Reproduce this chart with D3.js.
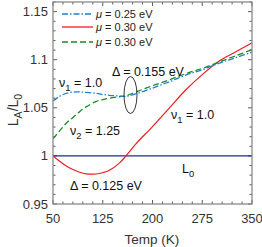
<!DOCTYPE html>
<html><head><meta charset="utf-8">
<script src="https://cdn.jsdelivr.net/npm/d3@7"></script>
<style>body{margin:0;background:#fff}svg{display:block;font-family:"Liberation Sans",Arial,sans-serif}</style>
</head><body>
<svg id="c" width="262" height="247"></svg>
<script>
const temps = [50,60,70,80,90,100,115,125,135,150,160,175,200,225,250,275,300,325,350];
const blue25 = [1.057,1.062,1.065,1.0663,1.0665,1.066,1.065,1.064,1.063,1.0622,1.062,1.0645,1.0705,1.077,1.084,1.0895,1.0963,1.102,1.108];
const green30 = [1.0177,1.026,1.034,1.040,1.046,1.051,1.0566,1.0585,1.060,1.0615,1.0625,1.0665,1.073,1.079,1.0855,1.091,1.0975,1.104,1.1105];
const red30 = [1.0,0.9945,0.9895,0.9858,0.983,0.9813,0.9812,0.9825,0.985,0.9925,1.0,1.0125,1.0305,1.0495,1.0685,1.0845,1.0985,1.108,1.1175];
const l0 = temps.map(()=>1.0);
const xTicks = [50,125,200,275,350];
const yTicks = [0.95,1.0,1.05,1.1,1.15];
const legendLabels = ["0.25 eV","0.30 eV","0.30 eV"];

const svg = d3.select("#c");
const L=53, R=252, T=2, B=204;
const x = d3.scaleLinear().domain([50,350]).range([L,R]);
const y = d3.scaleLinear().domain([0.95,1.16]).range([B,T]);

const g = svg.append("g");
const minorX = d3.range(50,350.1,15), minorY = d3.range(0.95,1.1601,0.01);
const tickCol="#333";
minorX.forEach(v=>{
  const maj = xTicks.some(t=>Math.abs(t-v)<1e-6);
  const len = maj?4:2.5;
  g.append("line").attr("x1",x(v)).attr("x2",x(v)).attr("y1",B).attr("y2",B-len).attr("stroke",tickCol).attr("stroke-width",0.8);
  g.append("line").attr("x1",x(v)).attr("x2",x(v)).attr("y1",T).attr("y2",T+len).attr("stroke",tickCol).attr("stroke-width",0.8);
});
minorY.forEach(v=>{
  const maj = yTicks.some(t=>Math.abs(t-v)<1e-6);
  const len = maj?4:2.5;
  g.append("line").attr("x1",L).attr("x2",L+len).attr("y1",y(v)).attr("y2",y(v)).attr("stroke",tickCol).attr("stroke-width",0.8);
  g.append("line").attr("x1",R).attr("x2",R-len).attr("y1",y(v)).attr("y2",y(v)).attr("stroke",tickCol).attr("stroke-width",0.8);
});
xTicks.forEach(v=>g.append("text").attr("x",x(v)).attr("y",B+19).attr("text-anchor","middle").attr("font-size",13).attr("fill","#333").text(v));
yTicks.forEach(v=>g.append("text").attr("x",L-5).attr("y",y(v)+4.5).attr("text-anchor","end").attr("font-size",13).attr("fill","#333").text(v===1?"1":d3.format(".2~f")(v)));

const line = d3.line().x((d,i)=>x(temps[i])).y(d=>y(d)).curve(d3.curveCatmullRom);
svg.append("clipPath").attr("id","cl").append("rect").attr("x",L).attr("y",T).attr("width",R-L).attr("height",B-T);
const pg = svg.append("g").attr("clip-path","url(#cl)");
pg.append("path").datum(l0).attr("d",line).attr("fill","none").attr("stroke","#1a2d8c").attr("stroke-width",1.3);
pg.append("path").datum(red30).attr("d",line).attr("fill","none").attr("stroke","#ee1c24").attr("stroke-width",1.2);
pg.append("path").datum(green30).attr("d",line).attr("fill","none").attr("stroke","#1b8a22").attr("stroke-width",1.3).attr("stroke-dasharray","6,3");
pg.append("path").datum(blue25).attr("d",line).attr("fill","none").attr("stroke","#1f7fd0").attr("stroke-width",1.3).attr("stroke-dasharray","6,2,1.5,2");

svg.append("rect").attr("x",L).attr("y",T).attr("width",R-L).attr("height",B-T).attr("fill","none").attr("stroke","#8a8a8a").attr("stroke-width",1.3);

const legStyles=[{c:"#1f7fd0",d:"6,2,1.5,2"},{c:"#ee1c24",d:null},{c:"#1b8a22",d:"6,3"}];
const legY=[14,27,42];
legStyles.forEach((s,i)=>{
  svg.append("line").attr("x1",62).attr("x2",93).attr("y1",legY[i]).attr("y2",legY[i]).attr("stroke",s.c).attr("stroke-width",1.3).attr("stroke-dasharray",s.d);
  const t=svg.append("text").attr("x",96).attr("y",legY[i]+4).attr("font-size",11).attr("fill","#222");
  t.append("tspan").attr("font-style","italic").text("μ");
  t.append("tspan").text(" = "+legendLabels[i]);
});

function sub(xp,yp,main,s,rest,fs){
  const t=svg.append("text").attr("x",xp).attr("y",yp).attr("font-size",fs).attr("fill","#111");
  t.append("tspan").text(main);
  t.append("tspan").attr("font-size",fs*0.75).attr("dy",fs*0.35).text(s);
  if(rest) t.append("tspan").attr("dy",-fs*0.35).text(rest);
  return t;
}
sub(59,87,"ν","1"," = 1.0",12.5);
sub(171,119,"ν","1"," = 1.0",12.5);
sub(70,135,"ν","2"," = 1.25",12.5);
svg.append("text").attr("x",112).attr("y",76).attr("font-size",12.5).attr("fill","#111").text("Δ = 0.155 eV");
svg.append("text").attr("x",70).attr("y",190).attr("font-size",12.5).attr("fill","#111").text("Δ = 0.125 eV");
sub(182,173,"L","0",null,12.5);
svg.append("ellipse").attr("cx",130.5).attr("cy",95).attr("rx",6.5).attr("ry",18.5).attr("fill","none").attr("stroke","#222").attr("stroke-width",0.9);

svg.append("text").attr("x",152).attr("y",244).attr("text-anchor","middle").attr("font-size",13.5).attr("fill","#333").text("Temp (K)");
const yl=svg.append("text").attr("transform","translate(18,110) rotate(-90)").attr("text-anchor","middle").attr("font-size",14).attr("fill","#333");
yl.append("tspan").text("L");
yl.append("tspan").attr("font-size",10.5).attr("dy",4).text("A");
yl.append("tspan").attr("dy",-4).text("/L");
yl.append("tspan").attr("font-size",10.5).attr("dy",4).text("0");
</script>
</body></html>
